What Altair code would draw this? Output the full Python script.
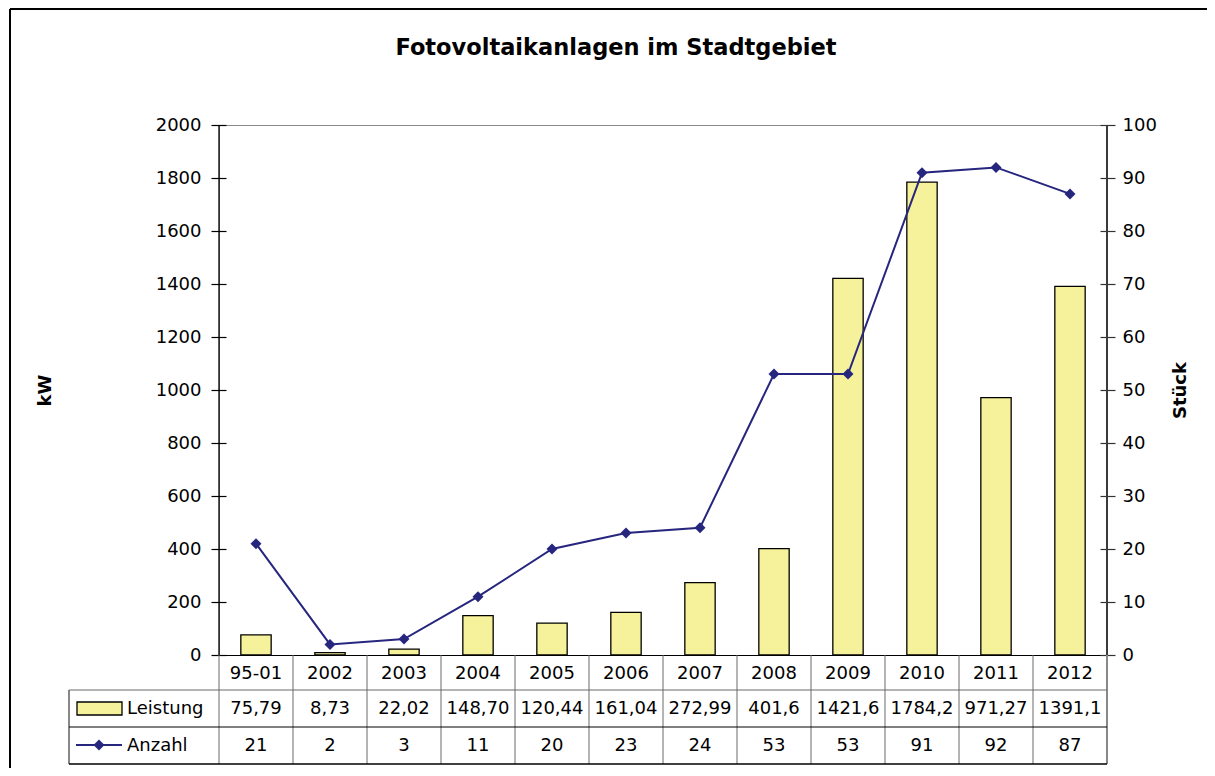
import altair as alt
import pandas as pd

categories = ["95-01", "2002", "2003", "2004", "2005", "2006", "2007", "2008", "2009", "2010", "2011", "2012"]
leistung = [75.79, 8.73, 22.02, 148.70, 120.44, 161.04, 272.99, 401.6, 1421.6, 1784.2, 971.27, 1391.1]
leistung_labels = ["75,79", "8,73", "22,02", "148,70", "120,44", "161,04", "272,99", "401,6", "1421,6", "1784,2", "971,27", "1391,1"]
anzahl = [21, 2, 3, 11, 20, 23, 24, 53, 53, 91, 92, 87]

df = pd.DataFrame({
    "cat": categories,
    "leistung": leistung,
    "leistung_label": leistung_labels,
    "anzahl": anzahl,
})
one = pd.DataFrame({"k": [0]})

FONT = "DejaVu Sans"
FS = 18
BAR_FILL = "#F6F29B"
NAVY = "#26267E"
GRID = "#6b6b6b"

W, H = 888, 530

xenc = alt.X("cat:N", sort=categories,
             scale=alt.Scale(paddingInner=0, paddingOuter=0),
             axis=alt.Axis(title=None, ticks=False, tickSize=0, labelPadding=18,
                           labelBaseline="middle", labelAngle=0, domainColor="black",
                           domainWidth=1.2, labelFont=FONT, labelFontSize=FS,
                           labelColor="black"))

bars = alt.Chart(df).mark_bar(fill=BAR_FILL, stroke="black", strokeWidth=1.3,
                              width={"band": 0.41}).encode(
    x=xenc,
    y=alt.Y("leistung:Q", scale=alt.Scale(domain=[0, 2000], nice=False),
            axis=alt.Axis(title="kW", orient="left", values=list(range(0, 2001, 200)),
                          format="d",
                          offset=-7, tickSize=15, tickColor="black", tickWidth=1.2,
                          domain=False, grid=False, labelPadding=10,
                          labelFont=FONT, labelFontSize=FS, labelColor="black",
                          titleFont=FONT, titleFontSize=FS, titleFontWeight="bold",
                          titleAngle=270, titleAlign="center", titleBaseline="middle",
                          titleX=-181, titleY=265, titleColor="black")),
)

line = alt.Chart(df).mark_line(color=NAVY, strokeWidth=2,
                               point=alt.OverlayMarkDef(shape="diamond", size=120,
                                                        filled=True, color=NAVY)).encode(
    x=alt.X("cat:N", sort=categories),
    y=alt.Y("anzahl:Q", scale=alt.Scale(domain=[0, 100], nice=False),
            axis=alt.Axis(title="Stück", orient="right", values=list(range(0, 101, 10)),
                          format="d",
                          offset=-7, tickSize=15, tickColor="#333", tickWidth=1.2,
                          domain=False, grid=False, labelPadding=7,
                          labelFont=FONT, labelFontSize=FS, labelColor="black",
                          titleFont=FONT, titleFontSize=FS, titleFontWeight="bold",
                          titleAngle=270, titleAlign="center", titleBaseline="middle",
                          titleX=80, titleY=265, titleColor="black")),
)

# axis lines of the plot area
left_line = alt.Chart(one).mark_rule(color="black", strokeWidth=1.3).encode(
    x=alt.value(0), y=alt.value(0), y2=alt.value(H))
right_line = alt.Chart(one).mark_rule(color="#3a3a3a", strokeWidth=2).encode(
    x=alt.value(W), y=alt.value(0), y2=alt.value(H))

# data table under the chart
vsep = alt.Chart(df).mark_rule(color=GRID, strokeWidth=1).encode(
    x=alt.X("cat:N", sort=categories, bandPosition=0),
    y=alt.value(H), y2=alt.value(639))
table_right = alt.Chart(one).mark_rule(color="#888", strokeWidth=2).encode(
    x=alt.value(W), y=alt.value(H), y2=alt.value(639))
table_left = alt.Chart(one).mark_rule(color="#888", strokeWidth=2).encode(
    x=alt.value(-150), y=alt.value(565), y2=alt.value(639))
hlines = []
for yy, col, sw in [(565, GRID, 1), (602, "black", 1), (639, "black", 1.3)]:
    hlines.append(alt.Chart(one).mark_rule(color=col, strokeWidth=sw).encode(
        x=alt.value(-150), x2=alt.value(W), y=alt.value(yy)))

txt_leistung = alt.Chart(df).mark_text(font=FONT, fontSize=FS, color="black",
                                       baseline="middle").encode(
    x=alt.X("cat:N", sort=categories), y=alt.value(584), text="leistung_label:N")
txt_anzahl = alt.Chart(df).mark_text(font=FONT, fontSize=FS, color="black",
                                     baseline="middle").encode(
    x=alt.X("cat:N", sort=categories), y=alt.value(621), text="anzahl:Q")

row_head_l = alt.Chart(one).mark_text(font=FONT, fontSize=FS, color="black", align="left",
                                      baseline="middle", text="Leistung").encode(
    x=alt.value(-92), y=alt.value(584))
row_head_a = alt.Chart(one).mark_text(font=FONT, fontSize=FS, color="black", align="left",
                                      baseline="middle", text="Anzahl").encode(
    x=alt.value(-92), y=alt.value(621))
sym_bar = alt.Chart(one).mark_rect(fill=BAR_FILL, stroke="black", strokeWidth=1.3).encode(
    x=alt.value(-142), x2=alt.value(-97), y=alt.value(577), y2=alt.value(590))
sym_line = alt.Chart(one).mark_rule(color=NAVY, strokeWidth=2).encode(
    x=alt.value(-143), x2=alt.value(-97), y=alt.value(620))
sym_pt = alt.Chart(one).mark_point(shape="diamond", size=120, filled=True, color=NAVY,
                                   opacity=1).encode(
    x=alt.value(-120), y=alt.value(620))

# outer chart frame (top and left edges; the rest runs off the picture)
frame_top = alt.Chart(one).mark_rule(color="black", strokeWidth=2).encode(
    x=alt.value(-209), x2=alt.value(988), y=alt.value(-116))
frame_left = alt.Chart(one).mark_rule(color="black", strokeWidth=2).encode(
    x=alt.value(-209), y=alt.value(-116), y2=alt.value(643))

chart = alt.layer(
    frame_top, frame_left, bars, line, left_line, right_line, vsep, table_right,
    table_left, *hlines,
    txt_leistung, txt_anzahl, row_head_l, row_head_a, sym_bar, sym_line, sym_pt,
).resolve_scale(y="independent").properties(
    width=W, height=H,
    autosize=alt.AutoSizeParams(type="none"),
    padding={"left": 211, "top": 117, "right": 100, "bottom": 113},
    title=alt.TitleParams("Fotovoltaikanlagen im Stadtgebiet", font=FONT, fontSize=22.5,
                          fontWeight="bold", color="black", anchor="middle",
                          frame="group", dx=-47, offset=-69, baseline="alphabetic"),
).configure_view(stroke="#8a8a8a", strokeWidth=1)

chart.save("out.html", embed_options={"renderer": "svg", "actions": False})
